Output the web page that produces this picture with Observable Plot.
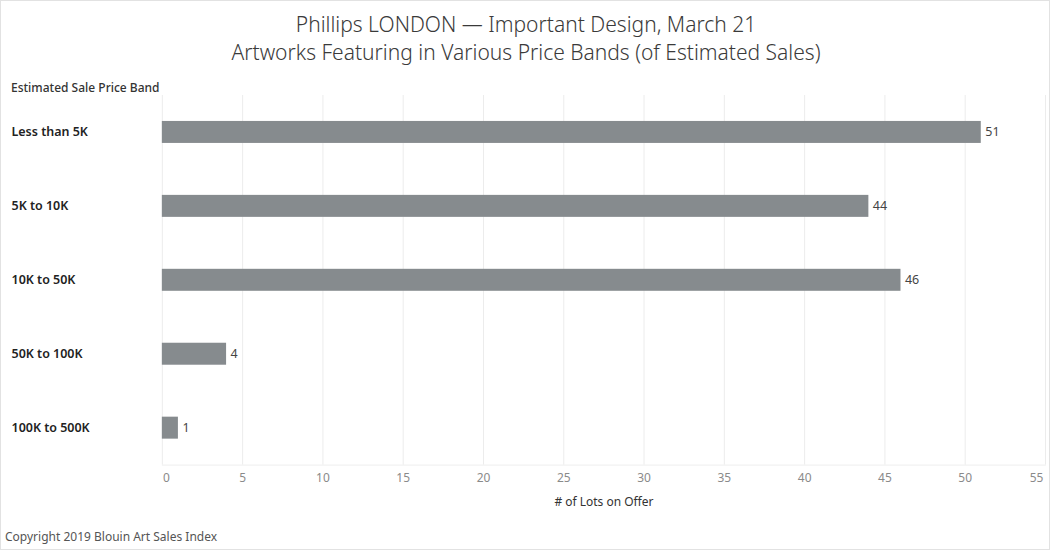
<!DOCTYPE html>
<html>
<head>
<meta charset="utf-8">
<script src="https://cdn.jsdelivr.net/npm/d3@7"></script>
<script src="https://cdn.jsdelivr.net/npm/@observablehq/plot@0.6"></script>
<style>
  html, body { margin: 0; padding: 0; background: #fff; }
  #wrap { position: relative; width: 1050px; height: 550px; box-sizing: border-box; border: 1px solid #e2e2e2; overflow: hidden; font-family: "Noto Sans", sans-serif; }
  #title { position: absolute; left: 0; top: 9px; width: 1050px; text-align: center; font-size: 21px; line-height: 28px; color: #3a3a3a; font-weight: 300; }
  #header { position: absolute; left: 10px; top: 78px; font-size: 12px; color: #333; font-weight: 500; }
  #chart { position: absolute; left: -1px; top: 69px; }
  #copy { position: absolute; left: 4px; top: 527px; font-size: 12px; color: #555; }
</style>
</head>
<body>
<div id="wrap">
  <div id="title">Phillips LONDON — Important Design, March 21<br>Artworks Featuring in Various Price Bands (of Estimated Sales)</div>
  <div id="header">Estimated Sale Price Band</div>
  <div id="chart"></div>
  <div id="copy">Copyright 2019 Blouin Art Sales Index</div>
</div>
<script>
const bands = ["Less than 5K", "5K to 10K", "10K to 50K", "50K to 100K", "100K to 500K"];
const lots = [51, 44, 46, 4, 1];
const xTicks = [0, 5, 10, 15, 20, 25, 30, 35, 40, 45, 50, 55];
const xTitle = "# of Lots on Offer";

const data = bands.map((b, i) => ({band: b, value: lots[i]}));
const midTicks = xTicks.slice(1, -1);

const chart = Plot.plot({
  width: 1050,
  height: 455,
  marginTop: 25,
  marginBottom: 60,
  marginLeft: 162,
  marginRight: 4,
  style: {fontFamily: "'Noto Sans', sans-serif", background: "transparent"},
  x: {domain: [0, 55], axis: null},
  y: {domain: bands, paddingInner: 0.7, paddingOuter: 0.35, axis: null},
  marks: [
    Plot.gridX(xTicks, {stroke: "#ececec", strokeOpacity: 1}),
    Plot.frame({anchor: "bottom", stroke: "#efefef"}),
    Plot.barX(data, {x: "value", y: "band", fill: "#868b8e"}),
    Plot.text(data, {x: "value", y: "band", text: d => String(d.value), dx: 4, textAnchor: "start", fontSize: 12.5, fill: "#444"}),
    Plot.text(data, {y: "band", text: "band", frameAnchor: "left", textAnchor: "start", dx: -151, fontSize: 12.5, fontWeight: 600, fill: "#222"}),
    Plot.text(midTicks, {x: d => d, text: d => String(d), frameAnchor: "bottom", dy: 17, fontSize: 12, fill: "#8a8a8a"}),
    Plot.text([xTicks[0]], {x: d => d, text: d => String(d), frameAnchor: "bottom", dy: 17, dx: 4, fontSize: 12, fill: "#8a8a8a"}),
    Plot.text([xTicks[xTicks.length - 1]], {x: d => d, text: d => String(d), frameAnchor: "bottom", dy: 17, dx: -9, fontSize: 12, fill: "#8a8a8a"}),
    Plot.text([xTitle], {text: d => d, frameAnchor: "bottom", dy: 41, fontSize: 12, fill: "#333"})
  ]
});
document.getElementById("chart").appendChild(chart);
</script>
</body>
</html>
